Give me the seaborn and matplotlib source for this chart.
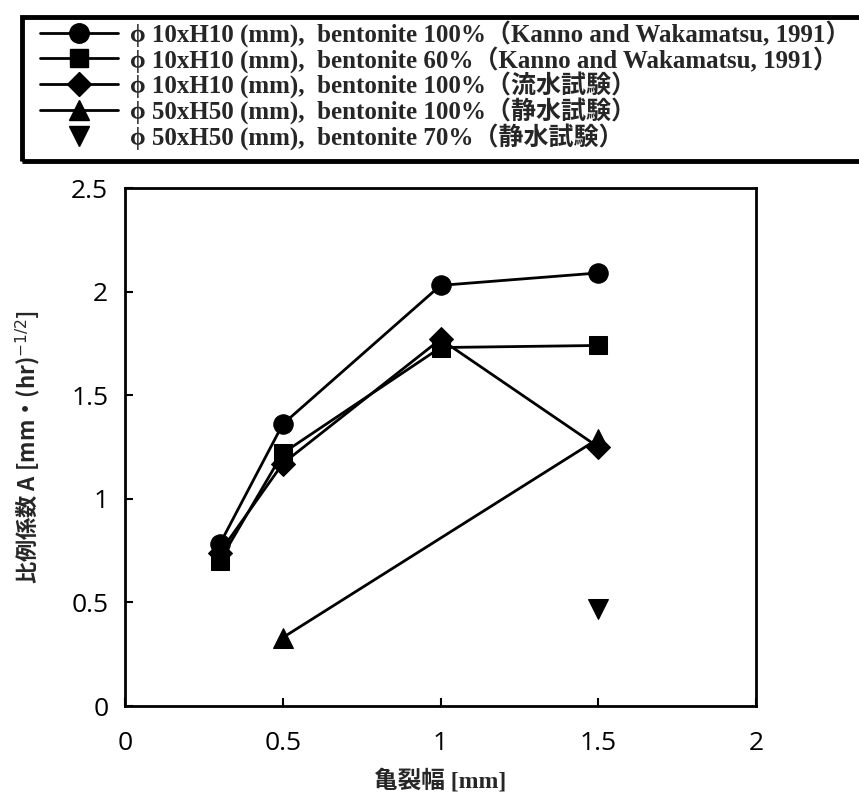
import matplotlib
matplotlib.use("Agg")
import matplotlib.pyplot as plt
import seaborn as sns
import pandas as pd
from matplotlib.lines import Line2D
from matplotlib.patches import Rectangle

sns.set_theme(style="ticks")
plt.rcParams['font.family'] = ['Open Sans', 'Noto Sans CJK JP', 'DejaVu Sans']

# ---- data ----
series_labels = [
    "ϕ 10xH10 (mm),  bentonite 100%（Kanno and Wakamatsu, 1991）",
    "ϕ 10xH10 (mm),  bentonite 60%（Kanno and Wakamatsu, 1991）",
    "ϕ 10xH10 (mm),  bentonite 100%（流水試験）",
    "ϕ 50xH50 (mm),  bentonite 100%（静水試験）",
    "ϕ 50xH50 (mm),  bentonite 70%（静水試験）",
]
x_circle = [0.3, 0.5, 1.0, 1.5]
y_circle = [0.78, 1.36, 2.03, 2.09]
x_square = [0.3, 0.5, 1.0, 1.5]
y_square = [0.70, 1.22, 1.73, 1.74]
x_diamond = [0.3, 0.5, 1.0, 1.5]
y_diamond = [0.74, 1.17, 1.77, 1.25]
x_tri_up = [0.5, 1.5]
y_tri_up = [0.33, 1.29]
x_tri_down = [1.5]
y_tri_down = [0.47]

xticks = [0, 0.5, 1, 1.5, 2]
yticks = [0, 0.5, 1, 1.5, 2, 2.5]
xticklabels = ["0", "0.5", "1", "1.5", "2"]
yticklabels = ["0", "0.5", "1", "1.5", "2", "2.5"]

series = [
    (x_circle, y_circle, "o", 14, True),
    (x_square, y_square, "s", 13, True),
    (x_diamond, y_diamond, "D", 12, True),
    (x_tri_up, y_tri_up, "^", 14, True),
    (x_tri_down, y_tri_down, "v", 14, False),
]

fig = plt.figure(figsize=(8.59, 8.01), dpi=100)
ax = fig.add_axes([125/859, 1 - 706/801, (756-125)/859, (706-188)/801])

for (xs, ys, m, ms, line), lab in zip(series, series_labels):
    df = pd.DataFrame({"x": xs, "y": ys})
    sns.lineplot(data=df, x="x", y="y", ax=ax, color="black",
                 marker=m, markersize=ms, linewidth=2.0 if line else 0,
                 markeredgecolor="black", markerfacecolor="black",
                 label=lab, legend=False, sort=False)

ax.set_xlim(0, 2)
ax.set_ylim(0, 2.5)
ax.set_xticks(xticks)
ax.set_xticklabels(xticklabels)
ax.set_yticks(yticks)
ax.set_yticklabels(yticklabels)
ax.tick_params(direction="in", length=6, width=1.5, labelsize=19,
               colors="black")
ax.tick_params(axis="x", pad=18)
ax.tick_params(axis="y", pad=12)
for s in ax.spines.values():
    s.set_linewidth(2.0)
    s.set_color("black")
    s.set_visible(True)

ax.set_xlabel("亀裂幅 [mm]", fontsize=17, fontweight="bold",
              family=['Liberation Serif', 'Noto Sans CJK JP'], labelpad=9)
ax.set_ylabel("比例係数 A [mm・(hr)$^{-1/2}$]", fontsize=16, fontweight="bold",
              family=['Noto Sans CJK JP'], labelpad=20)

# legend box
fig.patches.append(Rectangle((22/859, 1 - 161/801), 900/859, 144/801,
                             transform=fig.transFigure, fill=False,
                             edgecolor="black", linewidth=3.5, zorder=5))

leg_handles = []
for (xs, ys, m, ms, line) in series:
    leg_handles.append(Line2D([], [], color="black", marker=m, markersize=ms,
                              linewidth=2.0 if line else 0))
leg = fig.legend(leg_handles, series_labels, loc="upper left",
                 bbox_to_anchor=(40/859, 1 - 20/801),
                 frameon=False, handlelength=3.1,
                 handletextpad=0.5, labelspacing=-0.05, borderpad=0.0,
                 borderaxespad=0,
                 prop={'family': ['Liberation Serif', 'Noto Sans CJK JP'],
                       'weight': 'bold', 'size': 18})

fig.savefig("out.png", dpi=100)
